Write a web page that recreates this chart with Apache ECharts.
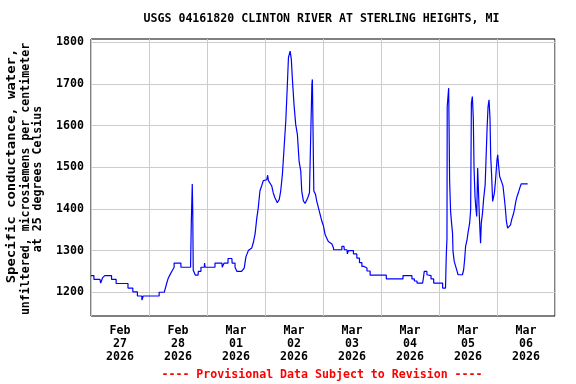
<!DOCTYPE html>
<html><head><meta charset="utf-8">
<script src="https://cdn.jsdelivr.net/npm/echarts@6/dist/echarts.min.js"></script>
<style>html,body{margin:0;padding:0;background:#fff}#c{width:576px;height:384px}</style>
</head><body><div id="c"></div>
<script>
const chartTitle = 'USGS 04161820 CLINTON RIVER AT STERLING HEIGHTS, MI';
const yLabelLines = ['Specific conductance, water,', 'unfiltered, microsiemens per centimeter', 'at 25 degrees Celsius'];
const footer = '---- Provisional Data Subject to Revision ----';
const dayLabels = ['Feb\n27\n2026', 'Feb\n28\n2026', 'Mar\n01\n2026', 'Mar\n02\n2026', 'Mar\n03\n2026', 'Mar\n04\n2026', 'Mar\n05\n2026', 'Mar\n06\n2026'];
const yTicks = [1200, 1300, 1400, 1500, 1600, 1700, 1800];
// hours since 2026-02-27 00:00
const hours = [
0,1.2,1.2,3.7,4.0,4.7,4.8,5.7,8.5,8.5,10.4,10.4,15.3,15.3,17.3,17.3,19.2,19.2,21.0,21.1,21.5,21.6,28.2,28.2,30.3,30.8,31.3,31.8,32.5,33.7,34.4,34.4,37.2,37.2,41.2,41.5,41.9,42.1,42.3,43.1,43.2,44.3,44.4,45.5,45.5,46.9,47.0,47.2,51.3,51.3,54.2,54.3,55.0,55.1,56.7,56.7,58.3,58.4,59.6,59.6,60.4,60.4,62.3,63.4,64.1,65.1,66.5,67.2,67.9,68.6,69.2,69.9,70.6,71.3,72.7,73.1,73.4,74.8,75.4,76.1,77.1,77.9,78.5,79.2,79.9,80.6,81.2,81.7,82.4,82.9,83.3,84.0,84.7,85.4,86.1,86.8,87.2,87.9,88.6,89.3,89.7,90.4,90.9,91.4,91.6,91.9,92.2,92.9,93.4,94.1,94.8,95.5,96.2,96.9,98.2,99.7,100.3,100.4,103.8,103.8,104.7,104.8,105.9,106.1,106.5,108.6,108.6,110.0,110.0,111.1,111.1,112.1,112.1,113.0,113.0,114.2,114.2,115.5,115.5,122.2,122.2,129.1,129.1,132.8,132.8,133.8,133.8,134.9,134.9,137.2,137.5,137.9,139.0,139.0,139.7,139.7,140.7,140.7,141.8,141.8,145.5,145.5,146.7,147.0,147.3,147.4,148.0,148.4,148.8,149.2,149.6,149.8,150.3,150.9,151.5,151.9,153.7,154.2,154.6,155.0,155.6,156.1,156.7,157.1,157.4,157.8,158.2,158.5,158.9,159.2,159.6,160.0,160.4,160.7,161.0,161.2,161.5,162.0,162.5,163.1,163.5,163.9,164.3,164.7,165.1,165.4,165.8,166.2,166.6,166.9,167.3,167.7,168.0,168.3,168.7,169.1,169.7,170.1,170.5,171.1,171.5,171.9,172.4,173.1,173.6,174.1,174.7,175.2,175.8,176.3,177.0,177.4,178.0,180.7
];
const conductance = [
1240,1240,1231,1231,1222,1222,1235,1240,1240,1231,1231,1221,1221,1210,1210,1201,1201,1191,1191,1181,1181,1191,1191,1200,1200,1210,1221,1231,1240,1253,1260,1270,1270,1260,1260,1366,1460,1394,1253,1252,1241,1241,1250,1250,1260,1260,1270,1260,1260,1270,1270,1260,1260,1270,1270,1281,1281,1270,1270,1260,1260,1250,1250,1258,1285,1300,1306,1320,1340,1378,1402,1443,1455,1468,1470,1481,1468,1455,1439,1427,1415,1423,1443,1483,1547,1611,1691,1763,1779,1759,1715,1651,1603,1579,1515,1491,1443,1419,1413,1413,1427,1439,1571,1699,1711,1579,1443,1435,1419,1403,1387,1371,1359,1338,1322,1316,1307,1302,1302,1310,1310,1302,1302,1292,1300,1300,1292,1292,1282,1282,1271,1271,1262,1262,1258,1258,1251,1251,1241,1241,1232,1232,1240,1240,1232,1232,1227,1227,1222,1222,1232,1250,1250,1242,1242,1240,1240,1232,1232,1222,1222,1210,1210,1286,1330,1646,1690,1466,1394,1366,1342,1298,1274,1262,1250,1242,1242,1254,1278,1310,1326,1346,1367,1398,1654,1670,1618,1498,1430,1406,1382,1498,1496,1382,1342,1318,1366,1390,1426,1458,1526,1594,1646,1662,1618,1526,1478,1418,1414,1438,1462,1494,1518,1530,1502,1478,1482,1462,1454,1422,1398,1370,1354,1351,1362,1375,1386,1398,1418,1430,1442,1450,1460,1460
];

const FONT = 'DejaVu Sans Mono';
const F = 'bold 11.6px "DejaVu Sans Mono"';
const seriesData = hours.map((h, i) => [h, conductance[i]]);
const chart = echarts.init(document.getElementById('c'), null, {renderer: 'canvas'});
chart.setOption({
  animation: false,
  backgroundColor: '#ffffff',
  graphic: [
    {type: 'text', x: 321.5, y: 19,
     style: {text: chartTitle, font: F, fill: '#000', textAlign: 'center', textVerticalAlign: 'middle'}},
    {type: 'text', x: 12, y: 166, rotation: Math.PI / 2, scaleX: 1.2,
     style: {text: yLabelLines[0], font: F, fill: '#000', textAlign: 'center', textVerticalAlign: 'middle'}},
    {type: 'text', x: 25.5, y: 179, rotation: Math.PI / 2,
     style: {text: yLabelLines[1], font: F, fill: '#000', textAlign: 'center', textVerticalAlign: 'middle'}},
    {type: 'text', x: 37.5, y: 179, rotation: Math.PI / 2,
     style: {text: yLabelLines[2], font: F, fill: '#000', textAlign: 'center', textVerticalAlign: 'middle'}},
    {type: 'text', x: 322, y: 375,
     style: {text: footer, font: F, fill: '#ff0000', textAlign: 'center', textVerticalAlign: 'middle'}}
  ],
  grid: {left: 91, right: 21, top: 39, bottom: 68, show: true, borderColor: '#000', borderWidth: 1, backgroundColor: 'transparent', containLabel: false},
  xAxis: [
    {type: 'category', data: dayLabels, boundaryGap: true, position: 'bottom',
     axisLine: {show: false}, axisTick: {show: false},
     axisLabel: {interval: 0, margin: 8, fontFamily: FONT, fontSize: 11.6, fontWeight: 'bold', color: '#000', lineHeight: 13},
     splitLine: {show: true, interval: 0, lineStyle: {color: '#cccccc', width: 1}}},
    {type: 'value', min: 0, max: 192, show: false, splitLine: {show: false}}
  ],
  yAxis: {
    type: 'value', min: 1143, max: 1808,
    axisLine: {show: false},
    axisTick: {show: false, customValues: yTicks},
    axisLabel: {customValues: yTicks, margin: 7, fontFamily: FONT, fontSize: 11.6, fontWeight: 'bold', color: '#000',
      formatter: v => String(v)},
    splitLine: {show: true, lineStyle: {color: '#cccccc', width: 1}}
  },
  series: [{
    type: 'line', xAxisIndex: 1, data: seriesData, showSymbol: false, symbol: 'none',
    lineStyle: {color: '#0000ff', width: 1.2}, z: 3
  }]
});
</script></body></html>
